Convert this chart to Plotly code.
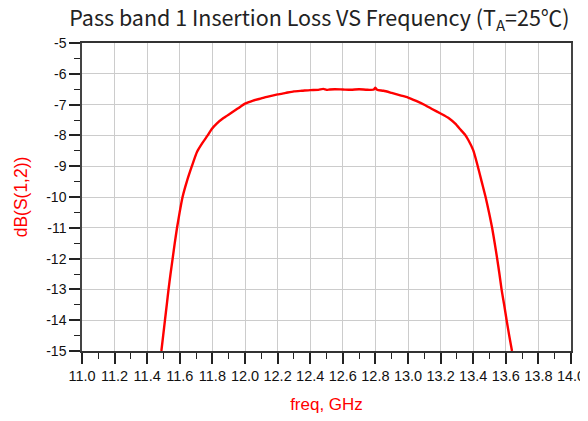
import plotly.graph_objects as go

freq_ghz = [11.487, 11.498, 11.509, 11.520, 11.531, 11.543, 11.556, 11.569, 11.583, 11.599,
            11.617, 11.643, 11.674, 11.706, 11.738, 11.771, 11.795, 11.828, 11.870, 11.910,
            11.955, 12.000, 12.050, 12.100, 12.135, 12.200, 12.250, 12.300, 12.350, 12.400,
            12.450, 12.480, 12.500, 12.520, 12.550, 12.600, 12.650, 12.700, 12.750, 12.790,
            12.800, 12.810, 12.850, 12.900, 12.953, 13.000, 13.050, 13.106, 13.150, 13.200,
            13.253, 13.290, 13.325, 13.350, 13.370, 13.400, 13.428, 13.452, 13.476, 13.497,
            13.516, 13.532, 13.547, 13.561, 13.574, 13.590, 13.605, 13.621, 13.638]
db_s12 = [-15.0, -14.5, -14.0, -13.5, -13.0, -12.5, -12.0, -11.5, -11.0, -10.5,
          -10.0, -9.5, -9.0, -8.53, -8.25, -8.0, -7.8, -7.61, -7.43, -7.29,
          -7.13, -6.97, -6.87, -6.80, -6.75, -6.67, -6.62, -6.57, -6.55, -6.53,
          -6.52, -6.49, -6.52, -6.51, -6.50, -6.51, -6.52, -6.50, -6.52, -6.51,
          -6.45, -6.52, -6.55, -6.62, -6.70, -6.77, -6.88, -7.02, -7.15, -7.29,
          -7.45, -7.62, -7.83, -7.98, -8.15, -8.48, -9.0, -9.5, -10.0, -10.5,
          -11.0, -11.5, -12.0, -12.5, -13.0, -13.5, -14.0, -14.5, -15.0]

x_tick_vals = [11.0 + 0.2 * i for i in range(16)]
x_tick_text = [f"{v:.1f}" for v in x_tick_vals]
y_tick_vals = [-5, -6, -7, -8, -9, -10, -11, -12, -13, -14, -15]
y_tick_text = [str(v) for v in y_tick_vals]

fig = go.Figure()
fig.add_trace(go.Scatter(x=freq_ghz, y=db_s12, mode="lines", line_shape="spline",
                         line=dict(color="#ff0000", width=2.4, smoothing=0.6),
                         showlegend=False))

# page body has an 8px margin, so the figure is sized/offset to land on the reference pixels
fig.update_layout(
    width=580, height=413,
    margin=dict(l=74, r=17, t=35, b=70),
    paper_bgcolor="white", plot_bgcolor="white",
    title=dict(text="Pass band 1 Insertion Loss VS Frequency (T<sub>A</sub>=25℃)",
               x=0.537, xanchor="center", y=0.974, yanchor="middle",
               font=dict(family="Noto Sans CJK SC", size=21.5, color="#222222")),
    font=dict(family="Liberation Sans", size=14, color="#111111"),
)
fig.update_xaxes(
    range=[11.0, 14.0], tickmode="array", tickvals=x_tick_vals, ticktext=x_tick_text,
    showgrid=True, gridcolor="#cccccc", gridwidth=1, automargin=False,
    showline=True, linecolor="#333333", linewidth=1.5, mirror=True,
    ticks="outside", ticklen=11, tickcolor="#222222", tickwidth=1.5,
    minor=dict(dtick=0.1, tick0=11.0, ticks="outside", ticklen=6, tickcolor="#222222",
               tickwidth=1.2, showgrid=False),
    tickfont=dict(family="Liberation Sans", size=14.5, color="#111111"),
    title=dict(text="freq, GHz", font=dict(family="Liberation Sans", size=17, color="#ff0000"),
               standoff=15),
    zeroline=False,
)
fig.update_yaxes(
    range=[-15, -5], tickmode="array", tickvals=y_tick_vals, ticktext=y_tick_text,
    showgrid=True, gridcolor="#cccccc", gridwidth=1, automargin=False,
    showline=True, linecolor="#444444", linewidth=1.5, mirror=True,
    ticks="outside", ticklen=11, tickcolor="#222222", tickwidth=1.5,
    minor=dict(dtick=0.5, tick0=-5, ticks="outside", ticklen=6, tickcolor="#222222",
               tickwidth=1.2, showgrid=False),
    tickfont=dict(family="Liberation Sans", size=14, color="#111111"),
    title=dict(text="dB(S(1,2))", font=dict(family="Liberation Sans", size=17.5, color="#ff0000"),
               standoff=14),
    zeroline=False,
)

fig.write_html("out.html")
